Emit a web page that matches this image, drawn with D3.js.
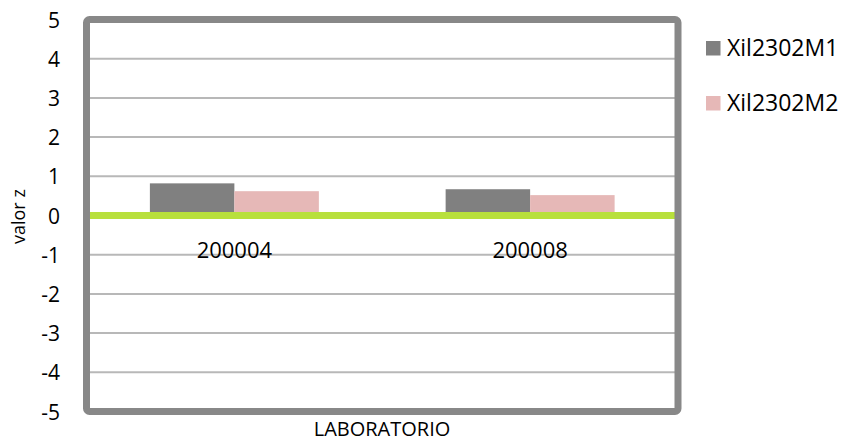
<!DOCTYPE html>
<html><head><meta charset="utf-8">
<script src="https://cdn.jsdelivr.net/npm/d3@7/dist/d3.min.js"></script>
<style>body{margin:0;background:#fff}svg{display:block;font-family:"Open Sans","Liberation Sans",sans-serif}</style>
</head><body><svg id="c" width="844" height="442"></svg>
<script>
const categories = ["200004", "200008"];
const seriesNames = ["Xil2302M1", "Xil2302M2"];
const seriesM1 = [0.82, 0.67];
const seriesM2 = [0.62, 0.52];
const yTicks = [-5, -4, -3, -2, -1, 0, 1, 2, 3, 4, 5];
const colors = ["#808080", "#e6b8b7"];

const svg = d3.select("#c");
const L = 86.5, R = 678, T = 19.5, B = 411.5;
const y = d3.scaleLinear().domain([-5, 5]).range([B, T]);
const x0 = d3.scaleBand().domain(categories).range([L, R]).padding(0);
const x1 = d3.scaleBand().domain(seriesNames).range([x0.bandwidth() * 0.2143, x0.bandwidth() * 0.7857]);

// gridlines
svg.append("g").selectAll("line").data(yTicks.filter(d => d !== 0 && d !== 5 && d !== -5)).join("line")
  .attr("x1", L).attr("x2", R).attr("y1", d => y(d)).attr("y2", d => y(d))
  .attr("stroke", "#b8b8b8").attr("stroke-width", 2);

// bars
const data = categories.map((c, i) => ({c, vals: [seriesM1[i], seriesM2[i]]}));
svg.append("g").selectAll("g").data(data).join("g")
  .attr("transform", d => `translate(${x0(d.c)},0)`)
  .selectAll("rect").data(d => d.vals.map((v, j) => ({v, s: seriesNames[j], j}))).join("rect")
  .attr("x", d => x1(d.s)).attr("width", x1.bandwidth())
  .attr("y", d => y(Math.max(0, d.v))).attr("height", d => Math.abs(y(d.v) - y(0)))
  .attr("fill", d => colors[d.j]);

// zero line
svg.append("line").attr("x1", L).attr("x2", R).attr("y1", y(0)).attr("y2", y(0))
  .attr("stroke", "#b8e03c").attr("stroke-width", 7);

// frame
svg.append("rect").attr("x", L).attr("y", T).attr("width", R - L).attr("height", B - T)
  .attr("rx", 3).attr("fill", "none").attr("stroke", "#888888").attr("stroke-width", 7);

// y axis labels
const yAxis = d3.axisLeft(y).tickValues(yTicks).tickSize(0).tickPadding(0).tickFormat(d => String(d));
const ya = svg.append("g").attr("transform", "translate(60,0)").call(yAxis);
ya.select(".domain").remove();
ya.selectAll("text").attr("font-size", 21).attr("fill", "#000").attr("font-family", "Open Sans, sans-serif").attr("dy", "0.36em");

// category labels
svg.append("g").selectAll("text").data(categories).join("text")
  .attr("x", d => x0(d) + x0.bandwidth() / 2).attr("y", 258)
  .attr("text-anchor", "middle").attr("font-size", 22).attr("fill", "#000").text(d => d);

// axis titles
svg.append("text").attr("x", 382).attr("y", 436).attr("text-anchor", "middle")
  .attr("font-size", 20).attr("fill", "#000").text("LABORATORIO");
svg.append("text").attr("transform", "translate(25,244) rotate(-90)").attr("text-anchor", "start")
  .attr("font-size", 18).attr("fill", "#000").text("valor z");

// legend
const lg = svg.append("g").selectAll("g").data(seriesNames).join("g")
  .attr("transform", (d, i) => `translate(706,${41 + i * 55})`);
lg.append("rect").attr("width", 14.5).attr("height", 14.5).attr("fill", (d, i) => colors[i]);
lg.append("text").attr("x", 21).attr("y", 14.5).attr("font-size", 23).attr("fill", "#000").text(d => d);
</script></body></html>
